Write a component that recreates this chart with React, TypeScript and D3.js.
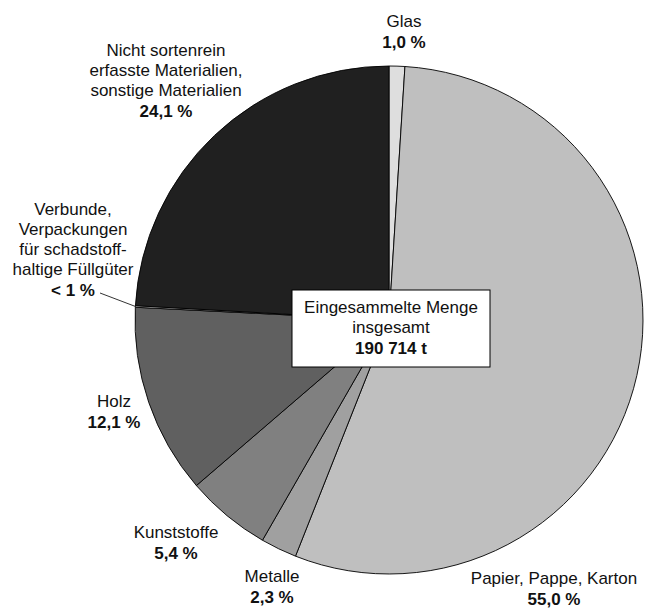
import React from 'react'
import * as d3 from 'd3'

// Anteile in Prozent, im Uhrzeigersinn ab 12 Uhr
const categories = [
  'Glas',
  'Papier, Pappe, Karton',
  'Metalle',
  'Kunststoffe',
  'Holz',
  'Verbunde',
  'Nicht sortenrein',
]
const shares = [1.0, 55.0, 2.3, 5.4, 12.1, 0.1, 24.1]
const shareLabels = ['1,0 %', '55,0 %', '2,3 %', '5,4 %', '12,1 %', '< 1 %', '24,1 %']
const labelLines = [
  ['Glas'],
  ['Papier, Pappe, Karton'],
  ['Metalle'],
  ['Kunststoffe'],
  ['Holz'],
  ['Verbunde,', 'Verpackungen', 'für schadstoff-', 'haltige Füllgüter'],
  ['Nicht sortenrein', 'erfasste Materialien,', 'sonstige Materialien'],
]
const fills = ['#dedede', '#bfbfbf', '#a0a0a0', '#808080', '#606060', '#d4d4d4', '#202020']

const totalLines = ['Eingesammelte Menge', 'insgesamt']
const totalValue = '190 714 t'

// layout
const W = 660
const H = 608
const cx = 389
const cy = 320
const R = 254
// x-centre and first baseline of each label block
const labelPos: [number, number][] = [
  [404, 27],
  [554, 584],
  [272, 582],
  [176, 538],
  [114, 407],
  [73, 215],
  [166, 56],
]
const lineH = 20

export default function App() {
  const pie = d3.pie<number>().sort(null).value(d => d)
  const arcs = pie(shares)
  const arc = d3.arc<d3.PieArcDatum<number>>().innerRadius(0).outerRadius(R)

  // leader line for the tiny slice
  const vb = arcs[5]
  const mid = (vb.startAngle + vb.endAngle) / 2
  const tip: [number, number] = [cx + R * Math.sin(mid), cy - R * Math.cos(mid)]

  const font = '"Liberation Sans", Arial, Helvetica, sans-serif'

  return (
    <svg
      width={W}
      height={H}
      style={{ position: 'absolute', left: 0, top: 0, background: '#fff' }}
      fontFamily={font}
      fontSize={17}
    >
      <g transform={`translate(${cx},${cy})`}>
        {arcs.map((a, i) => (
          <path key={categories[i]} d={arc(a) || ''} fill={fills[i]} stroke="#000" strokeWidth={0.9} strokeLinejoin="round" />
        ))}
      </g>

      <line x1={100} y1={293} x2={tip[0]} y2={tip[1]} stroke="#000" strokeWidth={0.8} />

      {labelLines.map((lines, i) => {
        const [x, y] = labelPos[i]
        return (
          <text key={categories[i]} x={x} textAnchor="middle" fill="#111">
            {lines.map((l, j) => (
              <tspan key={j} x={x} y={y + j * lineH}>{l}</tspan>
            ))}
            <tspan x={x} y={y + lines.length * lineH + 1} fontWeight="bold">{shareLabels[i]}</tspan>
          </text>
        )
      })}

      <rect x={292} y={290} width={198} height={77} fill="#fff" stroke="#000" strokeWidth={1} />
      <text x={391} textAnchor="middle" fill="#111">
        <tspan x={391} y={313}>{totalLines[0]}</tspan>
        <tspan x={391} y={333}>{totalLines[1]}</tspan>
        <tspan x={391} y={354} fontWeight="bold">{totalValue}</tspan>
      </text>
    </svg>
  )
}
